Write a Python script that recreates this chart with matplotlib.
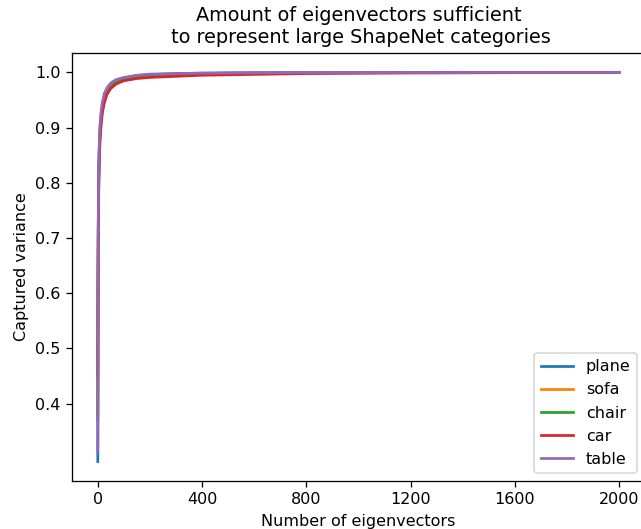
import matplotlib
matplotlib.use("Agg")
import matplotlib.pyplot as plt

# number of eigenvectors at which the curves were read
n_eig = [0, 1, 2, 3, 5, 8, 12, 17, 25, 35, 50, 70, 100, 150, 200, 300, 400, 600, 800, 1200, 1600, 2000]

# captured (cumulative) variance per category
plane = [0.295, 0.60, 0.73, 0.79, 0.85, 0.895, 0.92, 0.94, 0.957, 0.968, 0.978, 0.985, 0.990, 0.994,
         0.996, 0.998, 0.9987, 0.9993, 0.9996, 0.9999, 1.0, 1.0]
sofa = [0.38, 0.62, 0.73, 0.79, 0.85, 0.89, 0.915, 0.935, 0.953, 0.965, 0.976, 0.983, 0.989, 0.993,
        0.995, 0.997, 0.9983, 0.9992, 0.9996, 0.9999, 1.0, 1.0]
chair = [0.37, 0.60, 0.71, 0.77, 0.84, 0.885, 0.91, 0.93, 0.95, 0.962, 0.974, 0.982, 0.988, 0.993,
         0.995, 0.997, 0.9982, 0.9991, 0.9995, 0.9998, 1.0, 1.0]
car = [0.45, 0.63, 0.72, 0.77, 0.83, 0.87, 0.90, 0.925, 0.945, 0.96, 0.971, 0.979, 0.985, 0.989,
       0.991, 0.993, 0.995, 0.9965, 0.998, 0.999, 0.9996, 1.0]
table = [0.312, 0.62, 0.74, 0.80, 0.86, 0.90, 0.925, 0.945, 0.962, 0.972, 0.981, 0.987, 0.991, 0.995,
         0.997, 0.998, 0.9988, 0.9994, 0.9997, 0.9999, 1.0, 1.0]

categories = ["plane", "sofa", "chair", "car", "table"]
series = [plane, sofa, chair, car, table]

dpi = 115.6
fig = plt.figure(figsize=(641 / dpi, 529 / dpi), dpi=dpi)
ax = fig.add_axes([0.1119, 0.0907, 0.8944, 0.8091])

for name, vals in zip(categories, series):
    ax.plot(n_eig, vals, label=name, lw=1.7)

ax.set_xticks([0, 400, 800, 1200, 1600, 2000])
ax.set_yticks([0.4, 0.5, 0.6, 0.7, 0.8, 0.9, 1.0])
ax.set_xlabel("Number of eigenvectors")
ax.set_ylabel("Captured variance")
ax.set_title("Amount of eigenvectors sufficient\n to represent large ShapeNet categories")
ax.legend(loc="lower right")
ax.spines["right"].set_visible(False)

fig.savefig("out.png", dpi=dpi)
plt.close(fig)
